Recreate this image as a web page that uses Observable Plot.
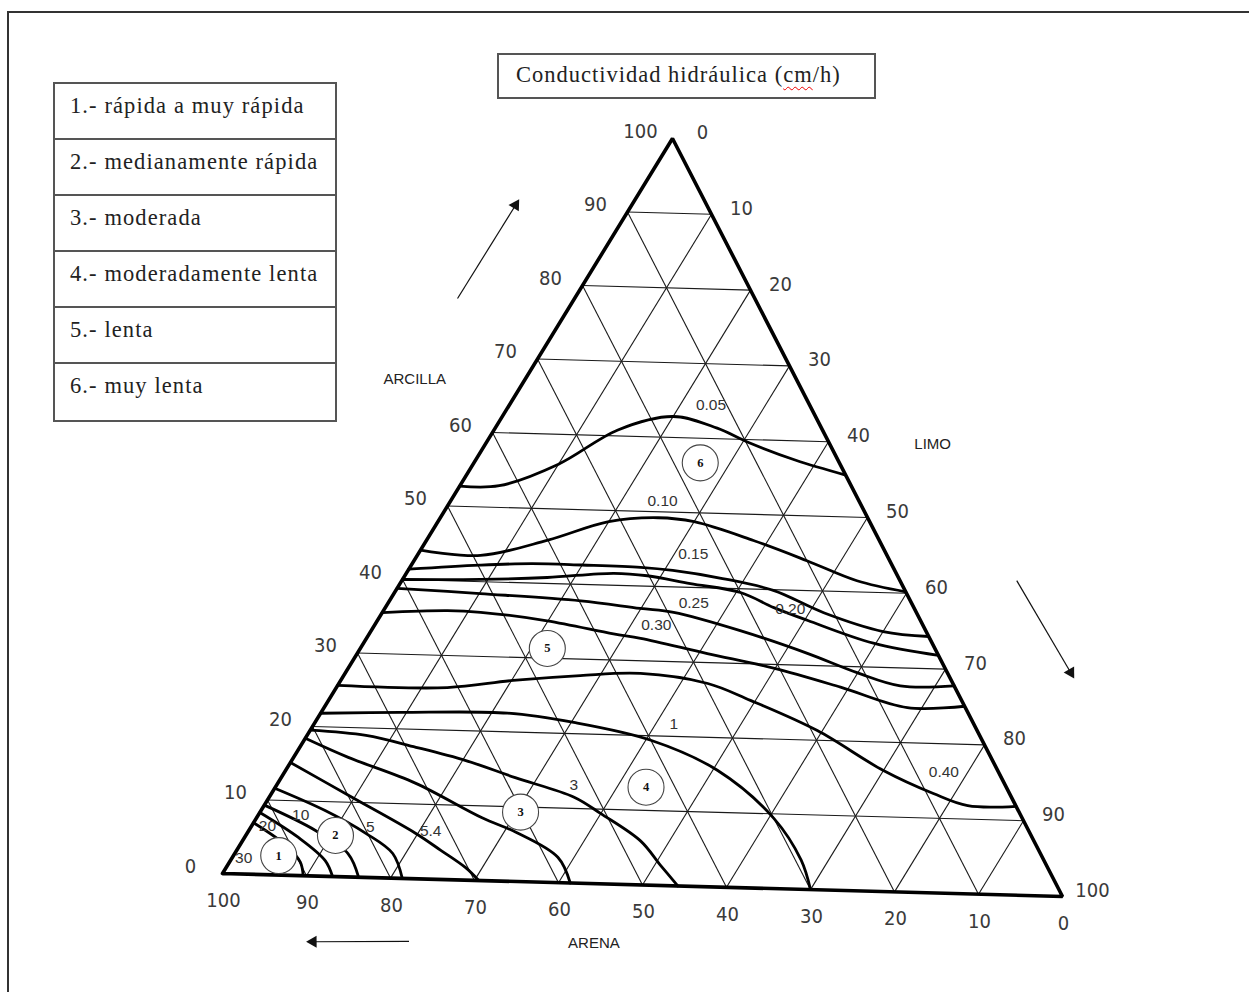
<!DOCTYPE html>
<html>
<head>
<meta charset="utf-8">
<script src="https://cdn.jsdelivr.net/npm/d3@7"></script>
<script src="https://cdn.jsdelivr.net/npm/@observablehq/plot@0.6"></script>
<style>
  html, body { margin: 0; padding: 0; background: #fff; }
  #page { position: relative; width: 1249px; height: 992px; overflow: hidden; background: #fff; }
  #frame { position: absolute; left: 7px; top: 11px; width: 1300px; height: 1100px; border-top: 2px solid #333; border-left: 2px solid #333; }
  #chart { position: absolute; left: 0; top: 0; }
  #title { position: absolute; left: 497px; top: 53px; width: 379px; height: 46px; box-sizing: border-box;
           border: 2px solid #555; font-family: "Liberation Serif", "Times New Roman", serif; font-size: 22.5px;
           letter-spacing: 1px; color: #222; padding-left: 17px; line-height: 40px; white-space: nowrap; }
  .sp { text-decoration: underline wavy #e00; text-decoration-thickness: 1px; text-underline-offset: 4px; }
  #legend { position: absolute; left: 53px; top: 82px; width: 284px; height: 340px; box-sizing: border-box;
            border: 2px solid #555; font-family: "Liberation Serif", "Times New Roman", serif; font-size: 22.5px;
            letter-spacing: 1.1px; color: #222; }
  #legend .row { box-sizing: border-box; height: 56px; border-bottom: 2px solid #555; padding: 9px 0 0 15px; line-height: 26px; white-space: nowrap; }
  #legend .row:last-child { border-bottom: none; }
</style>
</head>
<body>
<div id="page">
  <div id="frame"></div>
  <div id="chart"></div>
  <div id="title">Conductividad hidráulica (<span class="sp">cm</span>/h)</div>
  <div id="legend"></div>
</div>
<script>
// ---------- data ----------
const legendItems = [
  "1.- rápida a muy rápida",
  "2.- medianamente rápida",
  "3.- moderada",
  "4.- moderadamente lenta",
  "5.- lenta",
  "6.- muy lenta"
];
const chartTitle = "Conductividad hidráulica (cm/h)";

const gridLevels = [10, 20, 30, 40, 50, 60, 70, 80, 90];
const clayTicks = [0, 10, 20, 30, 40, 50, 60, 70, 80, 90, 100];
const siltTicks = [0, 10, 20, 30, 40, 50, 60, 70, 80, 90, 100];
const sandTicks = [0, 10, 20, 30, 40, 50, 60, 70, 80, 90, 100];
const axisNames = [
  {name: "ARCILLA", clay: 66.8, silt: -12.9},
  {name: "LIMO", clay: 60.0, silt: 52.4},
  {name: "ARENA", clay: -8.0, silt: 48.5}
];

// contour lines: [clay %, silt %] points (sand = 100 - clay - silt)
const k005 = [[52.7,0],[52.9,4.6],[56,10],[60.8,14.5],[62.8,20],[61.4,26],[59.6,30.7],[57.4,37.5],[55.6,44.4]];
const k010 = [[44,0],[43.5,7.4],[45.8,14.2],[48.5,20],[49.2,25.5],[48.8,30],[46.5,38.3],[44,46],[41.5,53.3],[40.2,59.8]];
const k015 = [[41.4,0],[42.2,8],[42.6,14],[42.6,20],[42.5,27],[42.2,31],[41.3,37.4],[39.9,44.2],[37.1,51.7],[34.8,60],[34.3,65.7]];
const k020 = [[40,0],[40.3,9.1],[40.8,16.8],[41.6,24.3],[41.4,28.4],[40.5,34],[39.5,40.5],[37.6,45.5],[36,50.4],[33.2,59.7],[31.8,68.2]];
const k025 = [[38.8,0],[38.4,10.1],[37.8,22.4],[37,29.9],[36.6,34.1],[34.4,43.2],[31.6,52.7],[29.2,59.9],[27.6,65.9],[27.8,72.2]];
const k030 = [[35.5,0],[36,7.5],[35.9,11.5],[35,19.9],[33.5,28.6],[33,32.1],[31.2,41],[29.5,49.8],[27.2,59],[24.7,68.3],[25.1,74.9]];
const k040 = [[25.6,0],[25.7,13],[26.9,20.2],[27.8,27.7],[28.3,34.6],[27.2,43.2],[25.1,49.4],[21.3,59.4],[16.2,70],[13.3,77.5],[11.8,82.4],[11.9,88.1]];
const k1   = [[21.8,0],[22.2,9.3],[22.5,21.9],[21.5,30.3],[19.4,40.6],[15.6,50.6],[9.4,60.6],[3.9,66.8],[0,70]];
const k3   = [[19.5,0],[19,6.9],[17.6,13.6],[16,20.4],[13.9,27.4],[11.5,35.7],[9.4,40],[5.9,46.6],[2.7,50.7],[0,54.2]];
const k4   = [[18.4,0],[16,6.4],[12.8,16.1],[8.4,26.4],[6.6,31.4],[3.4,38.1],[0,41.4]];
const k54  = [[15.1,0],[10.9,9.2],[6.1,19.7],[3.9,23.9],[1.7,28],[0,30.5]];
const k5   = [[11.6,0],[8.8,7.5],[5.9,13.9],[3.3,18.5],[0,21.4]];
const k10  = [[9.3,0],[6.1,7.8],[3.1,13.3],[0,16.2]];
const k20  = [[8.3,0],[5.1,6.3],[2.1,11.1],[0,13.1]];
const k30  = [[6.9,0],[4,5.4],[1.8,8.3],[0,9.6]];
const contourSeries = [k005, k010, k015, k020, k025, k030, k040, k1, k3, k4, k54, k5, k10, k20, k30];

// contour value labels [text, clay, silt]
const contourLabels = [
  ["0.05", 64.5, 23.6], ["0.10", 51.5, 24.8], ["0.15", 44.5, 32.2], ["0.25", 37.9, 35.8],
  ["0.20", 37.5, 47.5], ["0.30", 34.8, 33.0], ["1", 21.7, 42.1], ["3", 13.1, 34.8],
  ["0.40", 16.2, 77.2], ["5.4", 6.5, 21.3], ["5", 6.7, 14.0], ["10", 8.05, 5.0],
  ["20", 6.45, 1.9], ["30", 2.1, 1.4]
];

// circled class numbers [number, clay, silt]
const classMarks = [[1, 2.6, 5.3], [2, 5.5, 10.5], [3, 9.3, 30.5], [4, 13.1, 43.4], [5, 31.3, 21.9], [6, 56.7, 26.5]];

// direction arrows outside the triangle: [from clay, from silt, to clay, to silt]
const arrows = [[77.8, -13.7, 90.5, -13.6], [42.1, 72.0, 30.0, 84.9], [-8.4, 26.7, -8.8, 15.5]];

// ---------- ternary projection (vertex positions of the drawing) ----------
const V = {sand: [0, 0], silt: [840, -23], clay: [450, 735]};
function proj(clay, silt) {
  const sand = 100 - clay - silt;
  return [
    (sand * V.sand[0] + silt * V.silt[0] + clay * V.clay[0]) / 100,
    (sand * V.sand[1] + silt * V.silt[1] + clay * V.clay[1]) / 100
  ];
}
const pt = (clay, silt, extra = {}) => { const [x, y] = proj(clay, silt); return {x, y, ...extra}; };

// grid
const gridSegs = [];
for (const k of gridLevels) {
  const pairs = [[[k, 0], [k, 100 - k]], [[0, k], [100 - k, k]], [[0, 100 - k], [100 - k, 0]]];
  for (const [a, b] of pairs) {
    const [x1, y1] = proj(a[0], a[1]);
    const [x2, y2] = proj(b[0], b[1]);
    gridSegs.push({x1, y1, x2, y2});
  }
}
const outline = [pt(0, 0), pt(0, 100), pt(100, 0), pt(0, 0)];

const contourRows = [];
contourSeries.forEach((s, i) => s.forEach(([c, si]) => contourRows.push(pt(c, si, {id: i}))));

const labelRows = contourLabels.map(([t, c, s]) => pt(c, s, {t}));
const classRows = classMarks.map(([n, c, s]) => pt(c, s, {t: String(n)}));

const clayRows = clayTicks.map(v => pt(v, 0, {t: String(v)}));
const siltRows = siltTicks.map(v => pt(100 - v, v, {t: String(v)}));
const sandRows = sandTicks.map(v => pt(0, 100 - v, {t: String(v)}));
const nameRows = axisNames.map(d => pt(d.clay, d.silt, {t: d.name}));

const arrowSegs = arrows.map(([c1, s1, c2, s2]) => {
  const [x1, y1] = proj(c1, s1);
  const [x2, y2] = proj(c2, s2);
  return {x1, y1, x2, y2, angle: Math.atan2(x2 - x1, y2 - y1) * 180 / Math.PI};
});

const tickFont = "'DejaVu Sans Condensed', 'Liberation Sans', sans-serif";

const chart = Plot.plot({
  width: 1249,
  height: 992,
  marginTop: 0, marginRight: 0, marginBottom: 0, marginLeft: 0,
  x: {type: "linear", domain: [-222, 1027], range: [0, 1249], axis: null},
  y: {type: "linear", domain: [-119, 873], range: [992, 0], axis: null},
  style: {background: "transparent", overflow: "visible"},
  marks: [
    Plot.link(gridSegs, {x1: "x1", y1: "y1", x2: "x2", y2: "y2", stroke: "#1a1a1a", strokeWidth: 1.1}),
    Plot.line(contourRows, {x: "x", y: "y", z: "id", curve: "catmull-rom", stroke: "#000", strokeWidth: 2.8}),
    Plot.line(outline, {x: "x", y: "y", stroke: "#000", strokeWidth: 3.6, strokeLinejoin: "miter"}),
    Plot.dot(classRows, {x: "x", y: "y", r: 18, fill: "#fff", stroke: "#444", strokeWidth: 1.1}),
    Plot.text(classRows, {x: "x", y: "y", text: "t", fontFamily: "'Liberation Serif', serif", fontWeight: "bold", fontSize: 12.5, fill: "#111"}),
    Plot.text(labelRows, {x: "x", y: "y", text: "t", fontFamily: "'Liberation Sans', Arial, sans-serif", fontSize: 15.5, fill: "#333"}),
    Plot.text(clayRows, {x: "x", y: "y", text: "t", dx: -32, dy: -7, fontFamily: tickFont, fontSize: 20, fill: "#3a3a3a"}),
    Plot.text(siltRows, {x: "x", y: "y", text: "t", dx: 30, dy: -6, fontFamily: tickFont, fontSize: 20, fill: "#3a3a3a"}),
    Plot.text(sandRows, {x: "x", y: "y", text: "t", dx: 1, dy: 27, fontFamily: tickFont, fontSize: 20, fill: "#3a3a3a"}),
    Plot.text(nameRows, {x: "x", y: "y", text: "t", fontFamily: "'Liberation Sans', Arial, sans-serif", fontSize: 15, letterSpacing: "-0.6px", fill: "#222"}),
    Plot.link(arrowSegs, {x1: "x1", y1: "y1", x2: "x2", y2: "y2", stroke: "#111", strokeWidth: 1.2}),
    Plot.dot(arrowSegs, {x: "x2", y: "y2", symbol: "triangle", r: 4.5, fill: "#111", stroke: null, rotate: "angle"})
  ]
});
document.getElementById("chart").appendChild(chart);

// legend table
const legend = document.getElementById("legend");
for (const item of legendItems) {
  const row = document.createElement("div");
  row.className = "row";
  row.textContent = item;
  legend.appendChild(row);
}
</script>
</body>
</html>
